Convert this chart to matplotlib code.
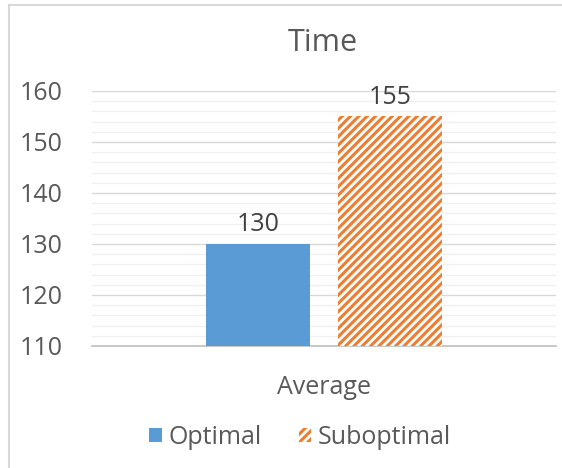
import matplotlib
matplotlib.use("Agg")
import matplotlib.pyplot as plt
from matplotlib.patches import Patch
from matplotlib.ticker import MultipleLocator

plt.rcParams['font.family'] = ['Open Sans', 'DejaVu Sans']
plt.rcParams['hatch.linewidth'] = 2.2

title = "Time"
category = "Average"
series = ["Optimal", "Suboptimal"]
values = [130, 155]
y_min, y_max = 110, 160

blue = "#5B9BD5"
orange = "#ED7D31"
text_col = "#595959"
fs = 18

fig = plt.figure(figsize=(5.62, 4.68), dpi=100)
fig.patch.set_facecolor("white")

# chart frame (top and left edges visible)
fig.add_artist(plt.Line2D([8.5 / 562, 1.0], [1 - 5 / 468, 1 - 5 / 468],
                          transform=fig.transFigure, color="#D9D9D9", lw=1.5))
fig.add_artist(plt.Line2D([8.5 / 562, 8.5 / 562], [0, 1 - 5 / 468],
                          transform=fig.transFigure, color="#D9D9D9", lw=1.5))

left, right = 92 / 562, 556 / 562
top, bottom = 1 - 91 / 468, 1 - 346 / 468
ax = fig.add_axes([left, bottom, right - left, top - bottom])

offsets = [-0.1425, 0.1425]
width = 0.2246
# Optimal: solid bar
ax.bar(offsets[0], values[0] - y_min, bottom=y_min, width=width,
       color=blue, linewidth=0, zorder=3)
# Suboptimal: striped bar
ax.bar(offsets[1], values[1] - y_min, bottom=y_min, width=width,
       facecolor="white", edgecolor=orange, hatch="////", linewidth=0, zorder=3)

for x, v in zip(offsets, values):
    ax.text(x, v + 1.3, f"{v}", ha="center", va="bottom",
            fontsize=fs, color="#404040")

ax.set_xlim(-0.5, 0.5)
ax.set_ylim(y_min, y_max)
ax.yaxis.set_major_locator(MultipleLocator(10))
ax.yaxis.set_minor_locator(MultipleLocator(2))
ax.grid(which="major", axis="y", color="#D9D9D9", lw=1.0, zorder=0)
ax.grid(which="minor", axis="y", color="#F0F0F0", lw=1.0, zorder=0)
ax.set_axisbelow(True)

for s in ["top", "right", "left"]:
    ax.spines[s].set_visible(False)
ax.spines["bottom"].set_color("#BFBFBF")
ax.spines["bottom"].set_linewidth(1.2)

ax.tick_params(axis="y", which="both", length=0, labelsize=fs,
               labelcolor=text_col, pad=21)
ax.set_xticks([0])
ax.set_xticklabels([category])
ax.tick_params(axis="x", length=0, labelsize=fs, labelcolor=text_col, pad=21)

fig.text(0.575, 1 - 43 / 468, title, ha="center", va="center",
         fontsize=22, color=text_col)

handles = [Patch(facecolor=blue, linewidth=0),
           Patch(facecolor="white", edgecolor=orange, hatch="////", linewidth=0)]
fig.legend(handles, series, loc="center", bbox_to_anchor=(0.534, 1 - 437 / 468),
           ncol=2, frameon=False, fontsize=fs, labelcolor=text_col,
           handlelength=0.5, handleheight=0.5, handletextpad=0.25,
           columnspacing=1.5)

fig.savefig("out.png", dpi=100, facecolor="white")
